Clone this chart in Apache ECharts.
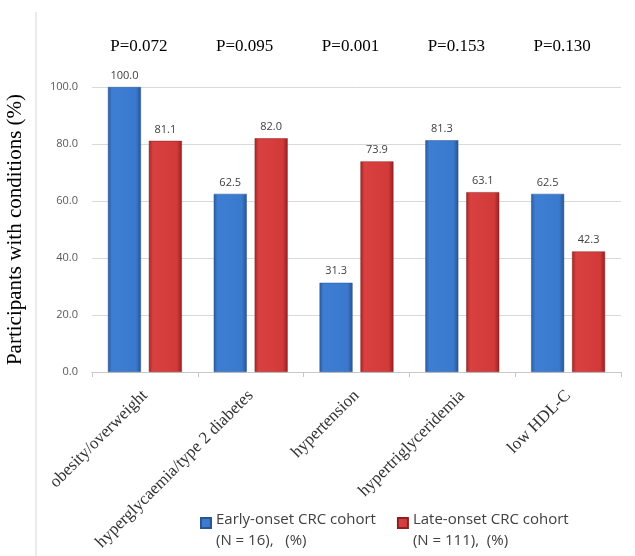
<!DOCTYPE html>
<html><head><meta charset="utf-8">
<script src="https://cdn.jsdelivr.net/npm/echarts@6/dist/echarts.min.js"></script>
<style>html,body{margin:0;padding:0;background:#fff}#c{width:635px;height:556px}</style>
</head><body><div id="c"></div>
<script>
const categories = ['obesity/overweight','hyperglycaemia/type 2 diabetes','hypertension','hypertriglyceridemia','low HDL-C'];
const earlyOnset = [100.0, 62.5, 31.3, 81.3, 62.5];
const lateOnset = [81.1, 82.0, 73.9, 63.1, 42.3];
const pValues = ['P=0.072','P=0.095','P=0.001','P=0.153','P=0.130'];
const seriesNames = ['Early-onset CRC cohort\n(N = 16),   (%)', 'Late-onset CRC cohort\n(N = 111),  (%)'];

const serif = '"Liberation Serif", "DejaVu Serif", serif';
const sans = '"Open Sans", "Liberation Sans", sans-serif';
function grad(c0, c1, c2, c3) {
  return new echarts.graphic.LinearGradient(0, 0, 1, 0, [
    {offset: 0, color: c0}, {offset: 0.12, color: c1}, {offset: 0.85, color: c2}, {offset: 1, color: c3}
  ]);
}
const blue = grad('#2a5b9c', '#3d7ed4', '#3a79cd', '#27548f');
const red = grad('#a02626', '#d94040', '#d23a3a', '#952020');

const chart = echarts.init(document.getElementById('c'), null, {renderer: 'canvas'});
chart.setOption({
  animation: false,
  backgroundColor: '#fff',
  grid: {left: 92, right: 14, top: 87, bottom: 184, outerBoundsMode: 'none', containLabel: false},
  graphic: [{type: 'line', shape: {x1: 36, y1: 12, x2: 36, y2: 556}, style: {stroke: '#d6d6d6', lineWidth: 1}}],
  legend: {
    left: 195, top: 504, itemGap: 21, itemWidth: 10, itemHeight: 24,
    icon: 'path://M0,0h10v10h-10zM0,24',
    textStyle: {fontFamily: sans, fontSize: 15, color: '#404040', lineHeight: 21},
    data: seriesNames
  },
  xAxis: [{
    type: 'category', data: categories, position: 'bottom',
    axisLine: {lineStyle: {color: '#c8c8c8'}},
    axisTick: {show: true, length: 5, lineStyle: {color: '#c8c8c8'}},
    axisLabel: {rotate: 45, margin: 21, fontFamily: serif, fontSize: 17, color: '#333', interval: 0}
  }, {
    type: 'category', data: categories, position: 'top',
    axisLine: {show: false}, axisTick: {show: false},
    axisLabel: {margin: 32, fontFamily: serif, fontSize: 17, color: '#000', interval: 0, padding: [0, 12, 0, 0],
      formatter: (v, i) => pValues[i]}
  }],
  yAxis: {
    type: 'value', min: 0, max: 100, interval: 20,
    name: 'Participants with conditions (%)', nameLocation: 'middle', nameGap: 66, nameMoveOverlap: false,
    nameTextStyle: {fontFamily: serif, fontSize: 21, color: '#000'},
    axisLine: {show: false}, axisTick: {show: false},
    axisLabel: {formatter: v => v.toFixed(1), fontFamily: sans, fontSize: 11, color: '#595959', margin: 14},
    splitLine: {lineStyle: {color: '#d9d9d9'}}
  },
  series: [{
    name: seriesNames[0], type: 'bar', data: earlyOnset, barWidth: 33, barGap: '24%',
    itemStyle: {color: blue, borderColor: '#2a5590', borderWidth: 0.5},
    label: {show: true, position: 'top', distance: 6, formatter: p => p.value.toFixed(1), fontFamily: sans, fontSize: 11, color: '#404040'}
  }, {
    name: seriesNames[1], type: 'bar', data: lateOnset, barWidth: 33,
    itemStyle: {color: red, borderColor: '#8e2020', borderWidth: 0.5},
    label: {show: true, position: 'top', distance: 6, formatter: p => p.value.toFixed(1), fontFamily: sans, fontSize: 11, color: '#404040'}
  }]
});
</script></body></html>
